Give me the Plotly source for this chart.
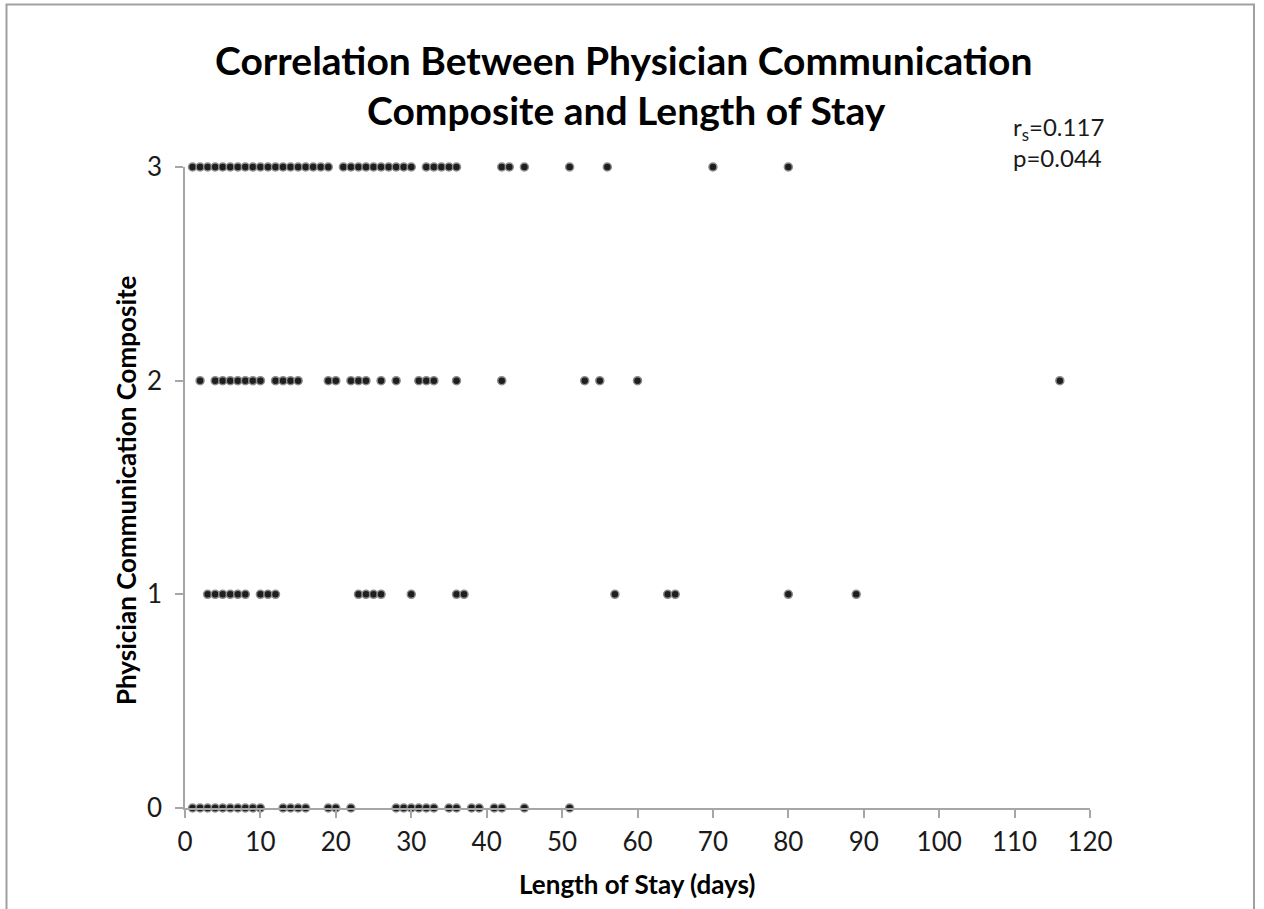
import plotly.graph_objects as go

# ---- data ----
los_score3 = [1, 2, 3, 4, 5, 6, 7, 8, 9, 10, 11, 12, 13, 14, 15, 16, 17, 18, 19,
              21, 22, 23, 24, 25, 26, 27, 28, 29, 30,
              32, 33, 34, 35, 36, 42, 43, 45, 51, 56, 70, 80]
los_score2 = [2, 4, 5, 6, 7, 8, 9, 10, 12, 13, 14, 15, 19, 20, 22, 23, 24, 26, 28,
              31, 32, 33, 36, 42, 53, 55, 60, 116]
los_score1 = [3, 4, 5, 6, 7, 8, 10, 11, 12, 23, 24, 25, 26, 30, 36, 37, 57, 64, 65,
              80, 89]
los_score0 = [1, 2, 3, 4, 5, 6, 7, 8, 9, 10, 13, 14, 15, 16, 19, 20, 22, 28, 29, 30,
              31, 32, 33, 35, 36, 38, 39, 41, 42, 45, 51]
scores = [3, 2, 1, 0]
x_ticks = [0, 10, 20, 30, 40, 50, 60, 70, 80, 90, 100, 110, 120]
y_ticks = [0, 1, 2, 3]

title_lines = ["Correlation Between Physician Communication",
               "Composite and Length of Stay"]
x_title = "Length of Stay (days)"
y_title = "Physician Communication Composite"
stat_text = "r<sub>s</sub>=0.117<br>p=0.044"

W, H = 1264, 909
L, R, T, B = 185, 1090, 167, 808  # plot area pixels


def px_x(p):
    return (p - L) / (R - L)


def px_y(p):
    return (B - p) / (B - T)


FONT = "Lato"
AX = "#a6a6a6"

fig = go.Figure()
xs, ys = [], []
for s, arr in zip(scores, [los_score3, los_score2, los_score1, los_score0]):
    xs += arr
    ys += [s] * len(arr)

fig.add_trace(go.Scatter(
    x=xs, y=ys, mode="markers", cliponaxis=False, showlegend=False,
    marker=dict(size=8, color="#1e1e1e", line=dict(color="#8c8c8c", width=1.5)),
))

fig.update_layout(
    width=W, height=H,
    margin=dict(l=L, r=W - R, t=T, b=H - B, pad=0),
    paper_bgcolor="white", plot_bgcolor="white",
    font=dict(family=FONT, color="#1a1a1a", size=20),
    xaxis=dict(range=[0, 120], tickvals=x_ticks, showgrid=False, zeroline=False,
               showline=True, linecolor=AX, linewidth=1.5, ticks="outside",
               ticklen=8, tickcolor=AX, tickwidth=1.5,
               tickfont=dict(size=26, family=FONT, color="#1a1a1a"),
               ticklabelstandoff=2),
    yaxis=dict(range=[0, 3], tickvals=y_ticks, showgrid=False, zeroline=False,
               showline=True, linecolor=AX, linewidth=1.5, ticks="outside",
               ticklen=8, tickcolor=AX, tickwidth=1.5,
               tickfont=dict(size=26, family=FONT, color="#1a1a1a"),
               ticklabelstandoff=8),
)

# title
fig.add_annotation(x=px_x(624), y=px_y(60), xref="paper", yref="paper",
                   xanchor="center", yanchor="middle",
                   text="<b>" + title_lines[0] + "</b>", showarrow=False,
                   font=dict(size=39, family=FONT, color="black"))
fig.add_annotation(x=px_x(626), y=px_y(110), xref="paper", yref="paper",
                   xanchor="center", yanchor="middle",
                   text="<b>" + title_lines[1] + "</b>", showarrow=False,
                   font=dict(size=39, family=FONT, color="black"))
# axis titles
fig.add_annotation(x=px_x(637), y=px_y(884), xref="paper", yref="paper",
                   xanchor="center", yanchor="middle",
                   text="<b>" + x_title + "</b>", showarrow=False,
                   font=dict(size=26, family=FONT, color="black"))
fig.add_annotation(x=px_x(126), y=px_y(490), xref="paper", yref="paper",
                   xanchor="center", yanchor="middle",
                   text="<b>" + y_title + "</b>", showarrow=False, textangle=-90,
                   font=dict(size=26, family=FONT, color="black"))
# statistics
fig.add_annotation(x=px_x(1011), y=px_y(110), xref="paper", yref="paper",
                   xanchor="left", yanchor="top", align="left",
                   text=stat_text, showarrow=False,
                   font=dict(size=24, family=FONT, color="#1a1a1a"))
# chart border
fig.add_shape(type="rect", xref="paper", yref="paper",
              x0=px_x(6.5), x1=px_x(1254), y0=px_y(920), y1=px_y(4.5),
              line=dict(color="#a0a0a0", width=2), fillcolor="rgba(0,0,0,0)")

fig.write_html("out.html")
